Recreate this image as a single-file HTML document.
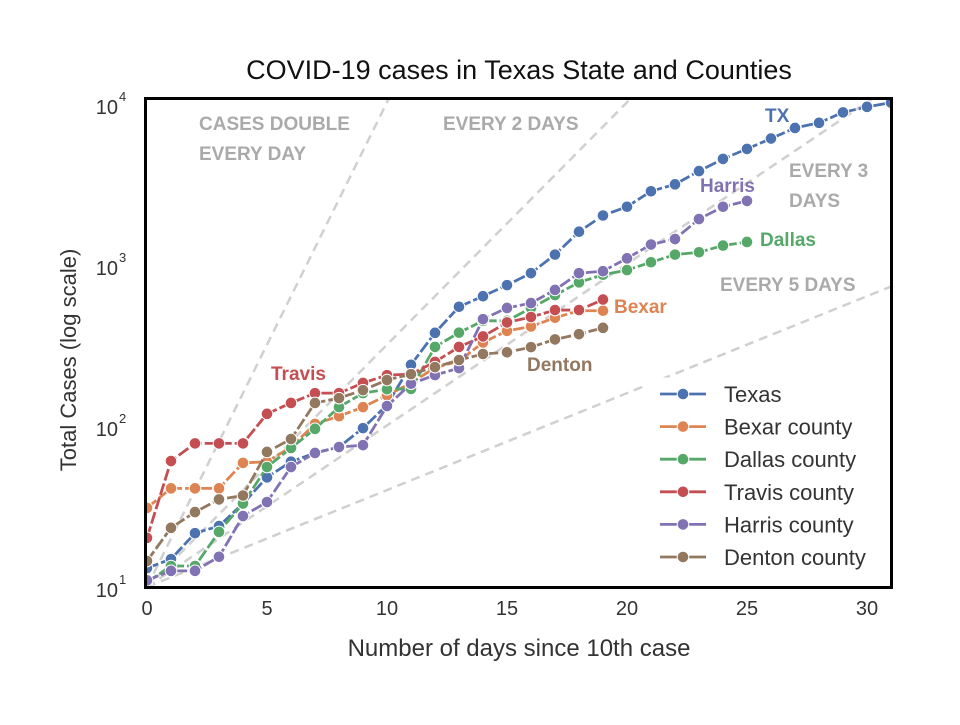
<!DOCTYPE html>
<html><head><meta charset="utf-8"><style>
body{margin:0;background:#fff;width:960px;height:720px;overflow:hidden}
svg text{font-family:"Liberation Sans",sans-serif}
</style></head><body>
<svg id="chart" width="960" height="720">
<text x="519" y="79" font-size="27" text-anchor="middle" fill="#111">COVID-19 cases in Texas State and Counties</text>
<text transform="translate(76,360) rotate(-90)" font-size="22" text-anchor="middle" fill="#333">Total Cases (log scale)</text>
<text x="519" y="656" font-size="24" text-anchor="middle" fill="#333">Number of days since 10th case</text>
<defs><clipPath id="pc"><rect x="146" y="99" width="745" height="487"/></clipPath></defs>
<g id="refs" clip-path="url(#pc)"></g>
<g id="series" clip-path="url(#pc)"></g>
<g id="ticks"></g>
<g font-weight="bold" font-size="19">
<text x="199" y="130" fill="#aaa">CASES DOUBLE</text>
<text x="199" y="160" fill="#aaa">EVERY DAY</text>
<text x="443" y="130" fill="#aaa">EVERY 2 DAYS</text>
<text x="789" y="177" fill="#aaa">EVERY 3</text>
<text x="789" y="207" fill="#aaa">DAYS</text>
<text x="720" y="291" fill="#aaa">EVERY 5 DAYS</text>
<text x="765" y="122" fill="#4c72b0">TX</text>
<text x="700" y="192" fill="#8172b3">Harris</text>
<text x="760" y="246" fill="#55a868">Dallas</text>
<text x="614" y="313" fill="#dd8452">Bexar</text>
<text x="271" y="380" fill="#c44e52">Travis</text>
<text x="527" y="371" fill="#937860">Denton</text>
</g>
<g id="legend"></g>
<rect x="145.5" y="98.5" width="746" height="489" fill="none" stroke="#000" stroke-width="3"/>
</svg>
<script>
const days=[0,1,2,3,4,5,6,7,8,9,10,11,12,13,14,15,16,17,18,19,20,21,22,23,24,25,26,27,28,29,30,31];
const texas=[13.1,14.9,21.6,23.9,33,48,60,68,74,97,135,240,379,550,640,750,890,1160,1610,2030,2300,2870,3170,3830,4560,5260,6100,7100,7640,8870,9600,10200];
const bexar=[31,41,41,41,59,60,74,103,115,131,155,185,230,253,330,390,415,470,520,520];
const dallas=[10.7,13.5,13.5,22,33,55.6,73,96,131,160,169,170,310,380,450,450,540,650,780,870,930,1040,1160,1200,1320,1390];
const travis=[20.2,60.6,78,78,78,119,139,160,160,185,207,210,250,310,360,440,475,525,525,610];
const harris=[11,12.6,12.6,15.4,27.6,33.7,55.6,68,74,76,133,183,207,229,461,541,580,700,890,915,1100,1340,1450,1930,2300,2500];
const denton=[14.5,23.3,29.2,35,37,69,83,139,149,167,193,210,232,257,280,287,309,345,372,407];
const xTicks=[0,5,10,15,20,25,30];
const yTicks=[1,2,3,4];
const doublingDays=[1,2,3,5];
const seriesNames=["Texas","Bexar county","Dallas county","Travis county","Harris county","Denton county"];
const seriesData=[texas,bexar,dallas,travis,harris,denton];
const colors=["#4c72b0","#dd8452","#55a868","#c44e52","#8172b3","#937860"];
const NS="http://www.w3.org/2000/svg";
const X=d=>147+24*d;
const Y=v=>587-161*(Math.log10(v)-1);
function mk(tag,attrs,parent){const e=document.createElementNS(NS,tag);for(const k in attrs)e.setAttribute(k,attrs[k]);parent.appendChild(e);return e;}
const refs=document.getElementById('refs');
doublingDays.forEach(d=>{
  const x2=Math.min(32,d*Math.log2(1000)+0.5);
  const l=mk('line',{x1:X(0),y1:Y(10),x2:X(x2),y2:Y(10*Math.pow(2,x2/d)),stroke:'#d0d0d0','stroke-width':2.5,'stroke-dasharray':'9,6'},refs);
  
  
});
const sg=document.getElementById('series');
seriesData.forEach((arr,i)=>{
  const g=mk('g',{},sg);
  
  
  const pts=arr.map((v,j)=>X(days[j])+','+Y(v)).join(' ');
  mk('polyline',{points:pts,fill:'none',stroke:colors[i],'stroke-width':2.8,'stroke-dasharray':'12,3'},g);
  arr.forEach((v,j)=>{
    const c=mk('circle',{cx:X(days[j]),cy:Y(v),r:5.8,fill:colors[i],stroke:'#fff','stroke-width':1},g);
    
    
  });
});
const tg=document.getElementById('ticks');
xTicks.forEach(t=>{
  const e=mk('text',{x:X(t),y:615,'font-size':20,'text-anchor':'middle',fill:'#333'},tg);
  e.textContent=t;
  
  
});
yTicks.forEach(p=>{
  const y=Y(Math.pow(10,p));
  const e=mk('text',{x:118,y:y+10,'font-size':20,'text-anchor':'end',fill:'#333'},tg);
  e.textContent='10';
  
  
  const s=mk('text',{x:119,y:y-3,'font-size':13,fill:'#333'},tg);
  s.textContent=p;
});
const lg=document.getElementById('legend');
const box=mk('rect',{x:648,y:378,width:240,height:196,fill:'#fff',stroke:'#fff'},lg);


seriesNames.forEach((n,i)=>{
  const y=394+32.6*i;
  const g=mk('g',{},lg);
  
  
  mk('line',{x1:660,y1:y,x2:706,y2:y,stroke:colors[i],'stroke-width':2.8},g);
  mk('circle',{cx:683,cy:y,r:5.8,fill:colors[i],stroke:'#fff','stroke-width':1},g);
  const t=mk('text',{x:724,y:y+8,'font-size':22,fill:'#333'},g);
  t.textContent=n;
});
</script>
</body></html>
